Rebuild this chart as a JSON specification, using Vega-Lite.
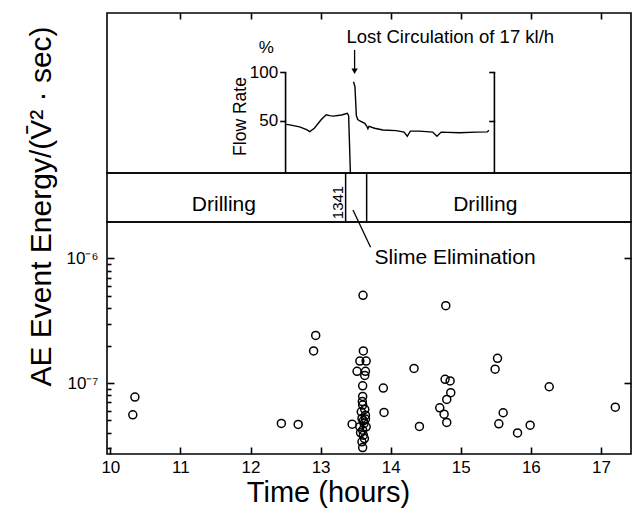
{
  "$schema": "https://vega.github.io/schema/vega-lite/v6.json",
  "usermeta": {"embedOptions": {"actions": false}},
  "background": "white",
  "padding": {"left": 25, "top": 11, "right": 0, "bottom": 0},
  "bounds": "flush",
  "spacing": 0,
  "config": {
    "font": "Liberation Sans",
    "view": {"stroke": "black", "strokeWidth": 1.6},
    "axis": {
      "domain": false,
      "grid": false,
      "ticks": true,
      "tickColor": "black",
      "tickWidth": 1.6,
      "tickOpacity": 1,
      "labelColor": "black",
      "titleColor": "black",
      "labelFont": "Liberation Sans",
      "titleFont": "Liberation Sans",
      "titleFontWeight": "normal"
    },
    "text": {"font": "Liberation Sans", "color": "black"}
  },
  "datasets": {
    "flow": [
      {"t": 12.51, "flow": 46, "seg": "before"},
      {"t": 12.56, "flow": 45.5, "seg": "before"},
      {"t": 12.70, "flow": 43.5, "seg": "before"},
      {"t": 12.80, "flow": 40.5, "seg": "before"},
      {"t": 12.845, "flow": 38.5, "seg": "before"},
      {"t": 12.91, "flow": 42, "seg": "before"},
      {"t": 13.01, "flow": 51, "seg": "before"},
      {"t": 13.08, "flow": 56, "seg": "before"},
      {"t": 13.13, "flow": 55, "seg": "before"},
      {"t": 13.18, "flow": 54.5, "seg": "before"},
      {"t": 13.30, "flow": 55.7, "seg": "before"},
      {"t": 13.38, "flow": 57.5, "seg": "before"},
      {"t": 13.40, "flow": 55, "seg": "before"},
      {"t": 13.425, "flow": -4.24, "seg": "before"},
      {"t": 13.47, "flow": 90, "seg": "after"},
      {"t": 13.49, "flow": 85, "seg": "after"},
      {"t": 13.51, "flow": 55, "seg": "after"},
      {"t": 13.53, "flow": 51, "seg": "after"},
      {"t": 13.56, "flow": 49.5, "seg": "after"},
      {"t": 13.63, "flow": 47, "seg": "after"},
      {"t": 13.66, "flow": 44, "seg": "after"},
      {"t": 13.675, "flow": 41.5, "seg": "after"},
      {"t": 13.69, "flow": 44, "seg": "after"},
      {"t": 13.77, "flow": 42, "seg": "after"},
      {"t": 13.89, "flow": 40.2, "seg": "after"},
      {"t": 14.08, "flow": 39.6, "seg": "after"},
      {"t": 14.19, "flow": 38, "seg": "after"},
      {"t": 14.237, "flow": 33.7, "seg": "after"},
      {"t": 14.28, "flow": 39, "seg": "after"},
      {"t": 14.41, "flow": 39, "seg": "after"},
      {"t": 14.60, "flow": 38, "seg": "after"},
      {"t": 14.66, "flow": 33.7, "seg": "after"},
      {"t": 14.72, "flow": 38, "seg": "after"},
      {"t": 14.98, "flow": 37.3, "seg": "after"},
      {"t": 15.22, "flow": 38, "seg": "after"},
      {"t": 15.38, "flow": 38.3, "seg": "after"},
      {"t": 15.40, "flow": 40, "seg": "after"}
    ],
    "events": [
      {"t": 13.605, "energy": 5.06e-7}, {"t": 14.786, "energy": 4.18e-7},
      {"t": 12.93, "energy": 2.41e-7}, {"t": 12.90, "energy": 1.81e-7},
      {"t": 13.61, "energy": 1.81e-7}, {"t": 13.56, "energy": 1.50e-7},
      {"t": 13.65, "energy": 1.50e-7}, {"t": 13.52, "energy": 1.24e-7},
      {"t": 13.64, "energy": 1.24e-7}, {"t": 13.63, "energy": 1.15e-7},
      {"t": 13.60, "energy": 9.5e-8}, {"t": 13.895, "energy": 9.1e-8},
      {"t": 13.60, "energy": 7.8e-8}, {"t": 13.595, "energy": 7.1e-8},
      {"t": 13.905, "energy": 5.8e-8}, {"t": 12.44, "energy": 4.73e-8},
      {"t": 12.68, "energy": 4.65e-8}, {"t": 13.45, "energy": 4.67e-8},
      {"t": 13.60, "energy": 6.65e-8}, {"t": 13.63, "energy": 6.14e-8},
      {"t": 13.58, "energy": 5.87e-8}, {"t": 13.64, "energy": 5.52e-8},
      {"t": 13.59, "energy": 5.19e-8}, {"t": 13.61, "energy": 4.97e-8},
      {"t": 13.62, "energy": 4.73e-8}, {"t": 13.56, "energy": 4.45e-8},
      {"t": 13.65, "energy": 4.45e-8}, {"t": 13.60, "energy": 4.18e-8},
      {"t": 13.61, "energy": 3.81e-8}, {"t": 13.625, "energy": 3.58e-8},
      {"t": 13.59, "energy": 3.37e-8}, {"t": 13.60, "energy": 3.03e-8},
      {"t": 13.57, "energy": 3.98e-8}, {"t": 13.64, "energy": 5.13e-8},
      {"t": 14.333, "energy": 1.31e-7}, {"t": 15.524, "energy": 1.58e-7},
      {"t": 15.49, "energy": 1.29e-7}, {"t": 14.776, "energy": 1.07e-7},
      {"t": 14.848, "energy": 1.04e-7}, {"t": 14.857, "energy": 8.36e-8},
      {"t": 14.80, "energy": 7.38e-8}, {"t": 14.70, "energy": 6.32e-8},
      {"t": 14.762, "energy": 5.62e-8}, {"t": 14.80, "energy": 4.82e-8},
      {"t": 14.41, "energy": 4.48e-8}, {"t": 15.605, "energy": 5.77e-8},
      {"t": 15.543, "energy": 4.70e-8}, {"t": 16.262, "energy": 9.33e-8},
      {"t": 17.205, "energy": 6.40e-8}, {"t": 15.99, "energy": 4.58e-8},
      {"t": 15.81, "energy": 3.97e-8}, {"t": 10.35, "energy": 7.71e-8},
      {"t": 10.32, "energy": 5.55e-8}
    ]
  },
  "vconcat": [
    {
      "width": 524,
      "height": 160,
      "layer": [
        {
          "layer": [
            {
              "data": {"name": "flow"},
              "mark": {"type": "line", "color": "black", "strokeWidth": 1.4},
              "encoding": {
                "x": {
                  "field": "t", "type": "quantitative",
                  "scale": {"domain": [9.952, 17.429], "nice": false, "zero": false},
                  "axis": {"orient": "top", "values": [11, 12, 13, 14, 15, 16, 17], "offset": -6, "tickSize": 6, "labels": false, "title": null}
                },
                "y": {
                  "field": "flow", "type": "quantitative",
                  "scale": {"domain": [-4.24, 161.1], "nice": false, "zero": false},
                  "axis": {
                    "orient": "left", "offset": -178.7, "values": [50, 100],
                    "tickSize": 6, "labelPadding": 2, "labelFontSize": 17,
                    "title": "Flow Rate", "titleFontSize": 17.5, "titleAngle": -90,
                    "titleX": -45, "titleY": 103, "titleAlign": "center", "titleBaseline": "middle"
                  }
                },
                "detail": {"field": "seg"}
              }
            },
            {
              "data": {"values": [{"t": 12.5, "flow": -4.24, "flow2": 100}]},
              "mark": {"type": "rule", "color": "black", "strokeWidth": 1.6},
              "encoding": {
                "x": {"field": "t", "type": "quantitative"},
                "y": {"field": "flow", "type": "quantitative"},
                "y2": {"field": "flow2"}
              }
            },
            {
              "data": {"values": [{"t": 12.225, "flow": 125.2, "label": "%"}]},
              "mark": {"type": "text", "fontSize": 17, "align": "center", "baseline": "middle"},
              "encoding": {
                "x": {"field": "t", "type": "quantitative"},
                "y": {"field": "flow", "type": "quantitative"},
                "text": {"field": "label"}
              }
            },
            {
              "data": {"values": [{"t": 14.85, "flow": 136.5, "label": "Lost Circulation of 17 kl/h"}]},
              "mark": {"type": "text", "fontSize": 18.5, "align": "center", "baseline": "middle"},
              "encoding": {
                "x": {"field": "t", "type": "quantitative"},
                "y": {"field": "flow", "type": "quantitative"},
                "text": {"field": "label"}
              }
            },
            {
              "data": {"values": [{"t": 13.485, "flow": 123, "flow2": 102}]},
              "mark": {"type": "rule", "color": "black", "strokeWidth": 1.3},
              "encoding": {
                "x": {"field": "t", "type": "quantitative"},
                "y": {"field": "flow", "type": "quantitative"},
                "y2": {"field": "flow2"}
              }
            },
            {
              "data": {"values": [{"t": 13.485, "flow": 101}]},
              "mark": {"type": "point", "shape": "triangle-down", "filled": true, "color": "black", "size": 40, "opacity": 1},
              "encoding": {
                "x": {"field": "t", "type": "quantitative"},
                "y": {"field": "flow", "type": "quantitative"}
              }
            }
          ]
        },
        {
          "data": {"values": [{"t": 15.48, "flow": -4.24, "flow2": 100}]},
          "mark": {"type": "rule", "color": "black", "strokeWidth": 1.6},
          "encoding": {
            "x": {"field": "t", "type": "quantitative"},
            "y": {
              "field": "flow", "type": "quantitative",
              "scale": {"domain": [-4.24, 161.1], "nice": false, "zero": false},
              "axis": {"orient": "left", "offset": -387.7, "values": [50, 100], "tickSize": 6, "labels": false, "title": null}
            },
            "y2": {"field": "flow2"}
          }
        }
      ],
      "resolve": {"scale": {"y": "independent"}}
    },
    {
      "width": 524,
      "height": 49,
      "layer": [
        {
          "data": {"values": [{"t": 13.357}, {"t": 13.657}]},
          "mark": {"type": "rule", "color": "black", "strokeWidth": 1.5},
          "encoding": {
            "x": {"field": "t", "type": "quantitative", "scale": {"domain": [9.952, 17.429], "nice": false, "zero": false}, "axis": null}
          }
        },
        {
          "data": {"values": [{"t": 11.62, "label": "Drilling"}, {"t": 15.35, "label": "Drilling"}]},
          "mark": {"type": "text", "fontSize": 21, "align": "center", "baseline": "middle", "dy": 7},
          "encoding": {
            "x": {"field": "t", "type": "quantitative"},
            "text": {"field": "label"}
          }
        },
        {
          "data": {"values": [{"t": 13.245, "label": "1341"}]},
          "mark": {"type": "text", "fontSize": 15, "align": "center", "baseline": "middle", "angle": 270, "dx": -5},
          "encoding": {
            "x": {"field": "t", "type": "quantitative"},
            "text": {"field": "label"}
          }
        }
      ]
    },
    {
      "width": 524,
      "height": 232,
      "layer": [
        {
          "data": {"name": "events"},
          "mark": {"type": "point", "shape": "circle", "filled": false, "color": "black", "strokeWidth": 1.5, "size": 64, "opacity": 1},
          "encoding": {
            "x": {
              "field": "t", "type": "quantitative",
              "scale": {"domain": [9.952, 17.429], "nice": false, "zero": false},
              "axis": {
                "orient": "bottom", "values": [10, 11, 12, 13, 14, 15, 16, 17], "format": "d",
                "offset": -7, "tickSize": 7, "labelPadding": 5, "labelFontSize": 17,
                "title": "Time (hours)", "titleFontSize": 29,
                "titleX": 221, "titleY": 54, "titleAlign": "center", "titleBaseline": "alphabetic"
              }
            },
            "y": {
              "field": "energy", "type": "quantitative",
              "scale": {"type": "log", "domain": [2.69e-8, 1.964e-6], "nice": false},
              "axis": {
                "orient": "left", "values": [1e-7, 1e-6],
                "offset": -7, "tickSize": 7,
                "labelExpr": "datum.value == 1e-6 ? '10⁻⁶' : '10⁻⁷'",
                "labelPadding": 9, "labelFontSize": 17,
                "title": "AE Event Energy/(V̄² · sec)", "titleFontSize": 30, "titleAngle": -90,
                "titleX": -64, "titleY": -16, "titleAlign": "center", "titleBaseline": "alphabetic"
              }
            }
          }
        },
        {
          "data": {"values": [{"t": 13.77, "energy": 1e-6, "label": "Slime Elimination"}]},
          "mark": {"type": "text", "fontSize": 21, "align": "left", "baseline": "middle"},
          "encoding": {
            "x": {"field": "t", "type": "quantitative"},
            "y": {
              "field": "energy", "type": "quantitative",
              "scale": {"type": "log", "domain": [2.69e-8, 1.964e-6], "nice": false},
              "axis": {
                "orient": "left",
                "values": [3e-8, 4e-8, 5e-8, 6e-8, 7e-8, 8e-8, 9e-8, 2e-7, 3e-7, 4e-7, 5e-7, 6e-7, 7e-7, 8e-7, 9e-7],
                "offset": -4, "tickSize": 4, "labels": false, "title": null
              }
            },
            "text": {"field": "label"}
          }
        },
        {
          "data": {"values": [{"t": 13.462, "energy": 2.45e-6, "t2": 13.713, "energy2": 1.23e-6}]},
          "mark": {"type": "rule", "color": "black", "strokeWidth": 1.3},
          "encoding": {
            "x": {"field": "t", "type": "quantitative"},
            "x2": {"field": "t2"},
            "y": {
              "field": "energy", "type": "quantitative",
              "scale": {"type": "log", "domain": [2.69e-8, 1.964e-6], "nice": false},
              "axis": {"orient": "right", "values": [1e-7, 1e-6], "offset": -7, "tickSize": 7, "labels": false, "title": null}
            },
            "y2": {"field": "energy2"}
          }
        }
      ],
      "resolve": {"scale": {"y": "independent"}}
    }
  ]
}
